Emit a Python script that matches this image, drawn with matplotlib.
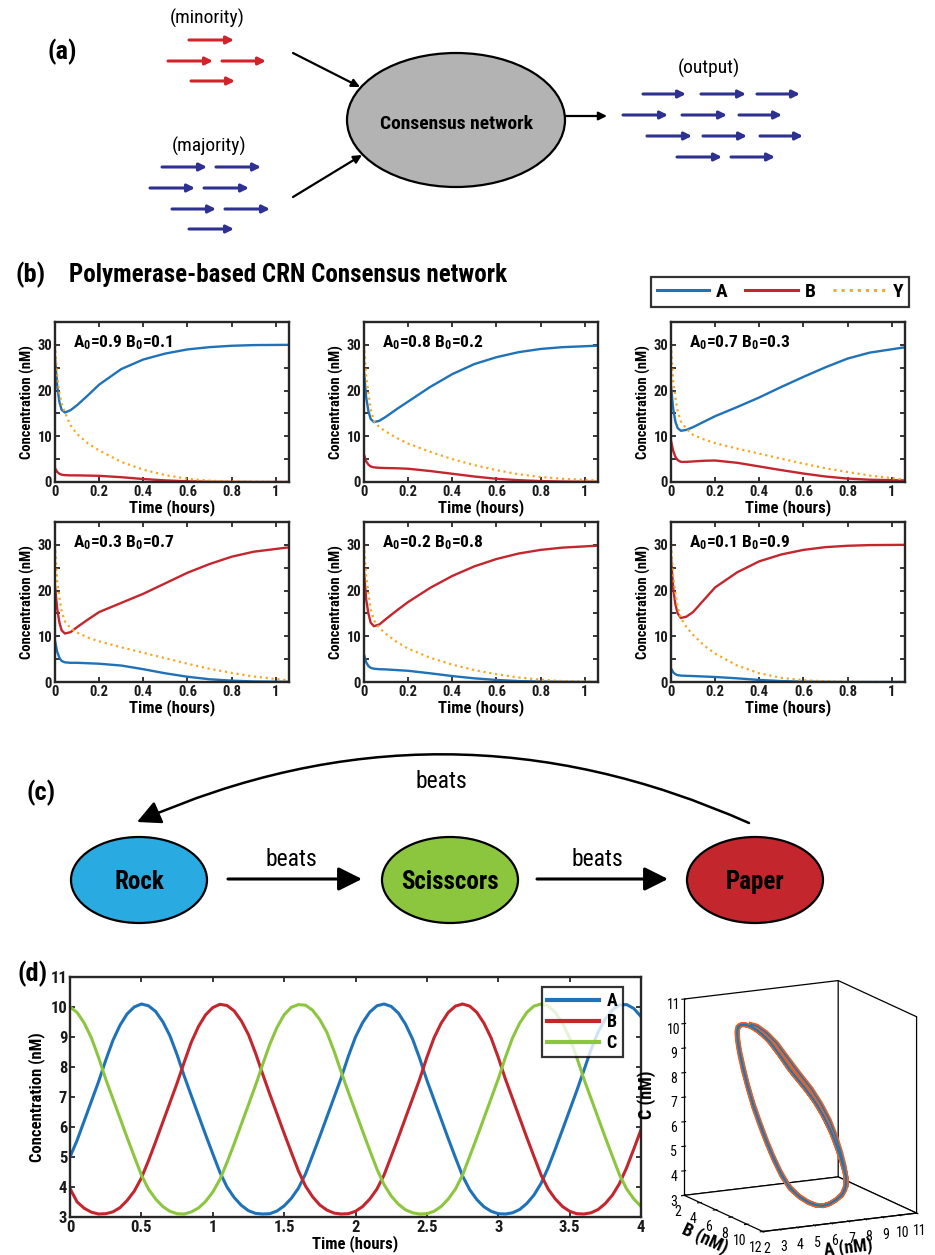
import matplotlib
matplotlib.use("Agg")
import matplotlib.pyplot as plt
from matplotlib import font_manager
from matplotlib.patches import Ellipse, FancyArrowPatch
from matplotlib.lines import Line2D
import numpy as np

# pick a narrow sans (the original uses a condensed face)
entries = font_manager.fontManager.ttflist
names = {f.name for f in entries}
family, stretch = 'DejaVu Sans', 'normal'
for cand in ['Liberation Sans Narrow', 'Roboto Condensed', 'Noto Sans Condensed',
             'Open Sans Condensed', 'DejaVu Sans Condensed']:
    if cand in names:
        family = cand
        break
else:
    for fam in ['Noto Sans', 'Roboto', 'Open Sans', 'DejaVu Sans']:
        if any(f.name == fam and f.stretch in ('condensed', 'semi-condensed', 'extra-condensed')
               for f in entries):
            family, stretch = fam, 'condensed'
            break
plt.rcParams['font.family'] = [family, 'DejaVu Sans']
plt.rcParams['font.stretch'] = stretch
plt.rcParams['mathtext.fontset'] = 'custom'
plt.rcParams['mathtext.rm'] = family + ':stretch=' + stretch
plt.rcParams['mathtext.bf'] = family + ':bold:stretch=' + stretch

# ---------------- data: panel (b) consensus runs ----------------
t_b = [0, 0.01, 0.02, 0.03, 0.045, 0.07, 0.1, 0.15, 0.2, 0.3, 0.4, 0.5, 0.6, 0.7, 0.8, 0.9, 1.05]
init_labels = [("0.9", "0.1"), ("0.8", "0.2"), ("0.7", "0.3"),
               ("0.3", "0.7"), ("0.2", "0.8"), ("0.1", "0.9")]
A_b = [
    [27, 21, 17.5, 15.8, 15.2, 15.7, 16.8, 19.0, 21.3, 24.7, 26.8, 28.1, 29.0, 29.5, 29.8, 29.95, 30.0],
    [24, 18.5, 15.5, 13.8, 13.1, 13.4, 14.3, 16.0, 17.6, 20.8, 23.6, 25.8, 27.3, 28.4, 29.1, 29.5, 29.8],
    [21, 16, 13.2, 11.8, 11.2, 11.4, 12.0, 13.2, 14.4, 16.4, 18.5, 20.8, 23.0, 25.1, 27.0, 28.3, 29.4],
    [9, 6.6, 5.3, 4.6, 4.3, 4.2, 4.2, 4.1, 4.0, 3.6, 2.8, 1.9, 1.15, 0.6, 0.3, 0.12, 0.05],
    [6, 4.3, 3.5, 3.1, 2.9, 2.8, 2.75, 2.6, 2.45, 1.9, 1.3, 0.8, 0.45, 0.2, 0.1, 0.05, 0.0],
    [3, 2.1, 1.7, 1.5, 1.4, 1.35, 1.3, 1.2, 1.1, 0.8, 0.45, 0.2, 0.08, 0.03, 0.0, 0.0, 0.0],
]
B_b = [
    [3, 2.2, 1.8, 1.6, 1.5, 1.45, 1.45, 1.4, 1.35, 1.05, 0.65, 0.35, 0.15, 0.05, 0.02, 0.0, 0.0],
    [6, 4.5, 3.8, 3.4, 3.2, 3.1, 3.05, 3.0, 2.9, 2.4, 1.8, 1.2, 0.7, 0.4, 0.2, 0.1, 0.05],
    [9, 6.8, 5.5, 4.8, 4.4, 4.4, 4.5, 4.65, 4.7, 4.2, 3.4, 2.6, 1.85, 1.2, 0.75, 0.5, 0.35],
    [21, 16, 13, 11.3, 10.6, 10.9, 12.0, 13.7, 15.3, 17.3, 19.3, 21.6, 23.9, 25.8, 27.4, 28.5, 29.4],
    [24, 18, 15, 13.0, 12.2, 12.6, 13.8, 15.7, 17.5, 20.6, 23.2, 25.3, 26.9, 28.1, 28.9, 29.4, 29.8],
    [27, 20.5, 17, 15, 14.0, 14.3, 15.3, 18.0, 20.7, 24.0, 26.4, 27.9, 28.9, 29.5, 29.8, 29.95, 30],
]
Y_b = [
    [30, 23, 19.5, 17.2, 15.2, 12.4, 10.5, 8.4, 6.9, 4.4, 2.7, 1.5, 0.7, 0.3, 0.12, 0.04, 0.0],
    [30, 23, 19.5, 16, 13.3, 12.0, 11.0, 9.6, 8.4, 6.6, 5.0, 3.7, 2.6, 1.7, 1.1, 0.7, 0.35],
    [30, 22, 18.5, 15.5, 13.2, 11.6, 10.3, 9.3, 8.5, 7.3, 6.2, 5.1, 4.0, 3.0, 2.2, 1.4, 0.6],
    [30, 22, 18.5, 15.5, 13.2, 11.8, 10.8, 9.7, 8.9, 7.6, 6.4, 5.2, 4.0, 2.9, 2.0, 1.2, 0.4],
    [30, 23, 19.5, 16, 13.5, 11.8, 10.5, 8.7, 7.3, 5.3, 3.8, 2.6, 1.7, 1.0, 0.5, 0.2, 0.05],
    [30, 23, 19.5, 16.5, 14.0, 12.0, 10.3, 8.0, 6.2, 3.6, 1.9, 0.9, 0.4, 0.15, 0.05, 0.0, 0.0],
]

# ---------------- data: panel (d) rock-paper-scissors oscillator ----------------
t_osc = np.linspace(0, 4, 81)
A_osc = [5.00, 5.56, 6.21, 6.86, 7.51, 8.22, 8.88, 9.39, 9.77, 10.00,
         10.10, 10.04, 9.85, 9.51, 9.04, 8.41, 7.70, 7.04, 6.39, 5.74,
         5.11, 4.49, 4.00, 3.65, 3.39, 3.21, 3.12, 3.10, 3.11, 3.20,
         3.37, 3.62, 3.96, 4.44, 5.06, 5.69, 6.34, 6.99, 7.64, 8.36,
         9.00, 9.48, 9.83, 10.04, 10.10, 10.02, 9.80, 9.43, 8.93, 8.28,
         7.56, 6.91, 6.26, 5.61, 4.98, 4.37, 3.91, 3.58, 3.34, 3.19,
         3.11, 3.10, 3.14, 3.25, 3.45, 3.73, 4.12, 4.65, 5.27, 5.91,
         6.56, 7.21, 7.89, 8.58, 9.17, 9.60, 9.90, 10.07, 10.08, 9.95,
         9.68]
B_osc = [3.95, 3.50, 3.29, 3.16, 3.10, 3.11, 3.17, 3.31, 3.55, 3.86,
         4.30, 4.88, 5.51, 6.16, 6.81, 7.46, 8.16, 8.83, 9.35, 9.74,
         9.98, 10.09, 10.05, 9.87, 9.54, 9.08, 8.46, 7.76, 7.09, 6.44,
         5.79, 5.16, 4.54, 4.03, 3.67, 3.40, 3.23, 3.13, 3.10, 3.11,
         3.19, 3.35, 3.60, 3.93, 4.40, 5.02, 5.65, 6.30, 6.95, 7.60,
         8.32, 8.97, 9.46, 9.82, 10.03, 10.10, 10.03, 9.82, 9.46, 8.97,
         8.32, 7.60, 6.95, 6.30, 5.65, 5.02, 4.40, 3.93, 3.60, 3.35,
         3.19, 3.11, 3.10, 3.14, 3.25, 3.45, 3.73, 4.12, 4.65, 5.27,
         5.91]
C_osc = [10.00, 9.82, 9.46, 8.97, 8.32, 7.60, 6.95, 6.30, 5.65, 5.02,
         4.40, 3.93, 3.60, 3.35, 3.19, 3.11, 3.10, 3.17, 3.30, 3.52,
         3.83, 4.25, 4.82, 5.44, 6.09, 6.74, 7.39, 8.09, 8.76, 9.32,
         9.74, 9.99, 10.08, 10.06, 9.89, 9.58, 9.15, 8.53, 7.83, 7.16,
         6.51, 5.86, 5.22, 4.60, 4.08, 3.70, 3.43, 3.24, 3.14, 3.10,
         3.11, 3.19, 3.35, 3.60, 3.93, 4.40, 5.02, 5.65, 6.30, 6.95,
         7.60, 8.32, 8.97, 9.46, 9.82, 10.03, 10.10, 10.03, 9.82, 9.46,
         8.97, 8.32, 7.60, 6.95, 6.30, 5.65, 5.02, 4.40, 3.93, 3.60,
         3.35]

# colours
BLUE = '#1f72b8'
RED = '#c4262e'
ORANGE = '#f7a823'
GREEN = '#8cc63f'

W, H = 935, 1255
fig = plt.figure(figsize=(W / 100, H / 100), dpi=100)


def rect(x0, y0, x1, y1):
    return [x0 / W, 1 - y1 / H, (x1 - x0) / W, (y1 - y0) / H]


def arrow(ax, p0, p1, color, lw, ms, style='-|>'):
    ax.annotate('', xy=p1, xytext=p0,
                arrowprops=dict(arrowstyle=style, color=color, lw=lw,
                                mutation_scale=ms, shrinkA=0, shrinkB=0))


# ---------------- schematic layer (panels a and c) ----------------
sk = fig.add_axes([0, 0, 1, 1])
sk.set_xlim(0, W)
sk.set_ylim(H, 0)
sk.axis('off')

PANEL_FS = 19
sk.text(62, 52, '(a)', fontsize=PANEL_FS, fontweight='bold', ha='center', va='center')
sk.text(207, 18, '(minority)', fontsize=14, ha='center', va='center')
sk.text(209, 146, '(majority)', fontsize=14, ha='center', va='center')
sk.text(709, 68, '(output)', fontsize=14, ha='center', va='center')

red_rows = [((189, 40), (234, 40)), ((168, 61), (213, 61)), ((222, 61), (266, 61)),
            ((191, 81), (235, 81))]
blue_in = [((162, 167), (207, 167)), ((216, 167), (261, 167)), ((150, 188), (195, 188)),
           ((204, 188), (249, 188)), ((172, 209), (216, 209)), ((225, 209), (270, 209)),
           ((189, 229), (234, 229))]
blue_out = [((643, 94), (686, 94)), ((701, 94), (746, 94)), ((757, 94), (800, 94)),
            ((623, 115), (668, 115)), ((682, 115), (727, 115)), ((739, 115), (782, 115)),
            ((647, 136), (692, 136)), ((703, 136), (747, 136)), ((760, 136), (803, 136)),
            ((677, 157), (722, 157)), ((731, 157), (775, 157))]
for p0, p1 in red_rows:
    arrow(sk, p0, p1, '#d2232a', 2.2, 11)
for p0, p1 in blue_in + blue_out:
    arrow(sk, p0, p1, '#2e3192', 2.2, 11)

sk.add_patch(Ellipse((456, 120), 218, 134, facecolor='#b3b3b3', edgecolor='k', lw=1.6))
sk.text(456, 124, 'Consensus network', fontsize=14, fontweight='bold', ha='center', va='center')
arrow(sk, (293, 53), (360, 87), 'k', 1.6, 12)
arrow(sk, (293, 197), (362, 155), 'k', 1.6, 12)
arrow(sk, (565, 116), (607, 116), 'k', 1.6, 12)

# panel (b) headings
sk.text(31, 275, '(b)', fontsize=PANEL_FS, fontweight='bold', ha='center', va='center')
sk.text(69, 275, 'Polymerase-based CRN Consensus network', fontsize=18,
        fontweight='bold', ha='left', va='center')

# panel (c)
sk.text(41, 793, '(c)', fontsize=PANEL_FS, fontweight='bold', ha='center', va='center')
nodes = [('Rock', 139, '#29abe2'), ('Scisscors', 450, GREEN), ('Paper', 755, RED)]
for name, cx, col in nodes:
    sk.add_patch(Ellipse((cx, 880), 136, 86, facecolor=col, edgecolor='k', lw=1.6))
    sk.text(cx, 882, name, fontsize=18, fontweight='bold', ha='center', va='center')
big = '-|>,head_length=0.9,head_width=0.45'
arrow(sk, (228, 879), (362, 879), 'k', 2.2, 16, big)
arrow(sk, (537, 879), (668, 879), 'k', 2.2, 16, big)
sk.text(291, 860, 'beats', fontsize=17, ha='center', va='center')
sk.text(597, 860, 'beats', fontsize=17, ha='center', va='center')
sk.add_patch(FancyArrowPatch((749, 823), (137, 822), connectionstyle='arc3,rad=0.222',
                             arrowstyle=big, mutation_scale=16, color='k', lw=1.8,
                             shrinkA=0, shrinkB=0))
sk.text(441, 781, 'beats', fontsize=17, ha='center', va='center')

# panel (d) label
sk.text(33, 974, '(d)', fontsize=PANEL_FS, fontweight='bold', ha='center', va='center')


def style(ax, fs):
    for s in ax.spines.values():
        s.set_linewidth(1.7)
        s.set_color('#262626')
    ax.tick_params(direction='in', top=True, right=True, length=3.5, width=1.3,
                   labelsize=fs, pad=2, colors='#262626', labelcolor='#1a1a1a')


# ---------------- panel (b) small multiples ----------------
cols = [(55, 289), (364, 598), (671, 905)]
rows = [(322, 482), (522, 682)]
for i in range(6):
    x0, x1 = cols[i % 3]
    y0, y1 = rows[i // 3]
    ax = fig.add_axes(rect(x0, y0, x1, y1))
    ax.plot(t_b, A_b[i], color=BLUE, lw=1.7)
    ax.plot(t_b, B_b[i], color=RED, lw=1.7)
    ax.plot(t_b, Y_b[i], color=ORANGE, lw=1.6, ls=':')
    ax.set_xlim(0, 1.06)
    ax.set_ylim(0, 35)
    style(ax, 10.5)
    ax.set_xticks([0, 0.2, 0.4, 0.6, 0.8, 1.0], labels=['0', '0.2', '0.4', '0.6', '0.8', '1'],
                  fontweight='bold')
    ax.set_yticks(range(0, 36, 5), labels=['0', '', '10', '', '20', '', '30', ''],
                  fontweight='bold')
    ax.set_xlabel('Time (hours)', fontsize=12, fontweight='bold', labelpad=0)
    ax.set_ylabel('Concentration (nM)', fontsize=10.5, fontweight='bold', labelpad=2)
    a0, b0 = init_labels[i]
    ax.text(0.075, 0.87, r'$\mathbf{A_0}$' + '=' + a0 + ' ' + r'$\mathbf{B_0}$' + '=' + b0,
            transform=ax.transAxes, fontsize=12.5, fontweight='bold', va='center')

handles = [Line2D([], [], color=BLUE, lw=2.2), Line2D([], [], color=RED, lw=2.2),
           Line2D([], [], color=ORANGE, lw=2.2, ls=':')]
leg = fig.legend(handles, ['A', 'B', 'Y'], loc='center', bbox_to_anchor=(780 / W, 1 - 292 / H),
                 ncol=3, frameon=True, fancybox=False, edgecolor='k', handlelength=2.7,
                 columnspacing=0.9, handletextpad=0.35, borderpad=0.3, borderaxespad=0,
                 prop={'weight': 'bold', 'size': 14})
leg.get_frame().set_linewidth(1.6)

# ---------------- panel (d) time series ----------------
axd = fig.add_axes(rect(70, 977, 641, 1217))
axd.plot(t_osc, A_osc, color=BLUE, lw=2.2, label='A')
axd.plot(t_osc, B_osc, color=RED, lw=2.2, label='B')
axd.plot(t_osc, C_osc, color=GREEN, lw=2.2, label='C')
axd.set_xlim(0, 4)
axd.set_ylim(3, 11)
style(axd, 12)
axd.set_xticks(np.arange(0, 4.01, 0.5), labels=['0', '0.5', '1', '1.5', '2', '2.5', '3', '3.5', '4'],
               fontweight='bold')
axd.set_yticks(range(3, 12), labels=[str(v) for v in range(3, 12)], fontweight='bold')
axd.set_xlabel('Time (hours)', fontsize=12, fontweight='bold', labelpad=0)
axd.set_ylabel('Concentration (nM)', fontsize=12, fontweight='bold', labelpad=4)
lg = axd.legend(loc='upper right', bbox_to_anchor=(0.968, 0.958), frameon=True, fancybox=False,
                edgecolor='k', handlelength=2.9, prop={'weight': 'bold', 'size': 13},
                borderpad=0.3, labelspacing=0.15, handletextpad=0.4, borderaxespad=0)
lg.get_frame().set_linewidth(1.6)
for ln in lg.get_lines():
    ln.set_linewidth(3)

# ---------------- panel (d) phase portrait ----------------
ax3 = fig.add_axes(rect(650, 955, 943, 1265), projection='3d')
ax3.set_proj_type('ortho')
ax3.plot(A_osc, B_osc, C_osc, color='#e3622c', lw=3.5)
ax3.plot(A_osc, B_osc, C_osc, color='#1f77b4', lw=1.1)
ax3.set_xlim(2, 11)
ax3.set_ylim(12, 2)
ax3.set_zlim(3, 11)
ax3.set_xticks(range(2, 12))
ax3.set_yticks(range(2, 13, 2))
ax3.set_zticks(range(3, 12))
ax3.set_box_aspect((1, 1, 1.17), zoom=1.05)
ax3.view_init(elev=13.6, azim=-117)
ax3.grid(False)
for axis in (ax3.xaxis, ax3.yaxis, ax3.zaxis):
    axis.set_pane_color((1, 1, 1, 1))
    axis.pane.set_edgecolor('k')
    axis.pane.set_linewidth(0.9)
    axis.line.set_color('k')
    axis.line.set_linewidth(0.9)
ax3.tick_params(labelsize=10, pad=-3)
ax3.zaxis.set_rotate_label(False)
ax3.set_xlabel('A (nM)', fontsize=13, fontweight='bold', labelpad=-9)
ax3.set_ylabel('B (nM)', fontsize=13, fontweight='bold', labelpad=-8)
ax3.set_zlabel('C (nM)', fontsize=13, fontweight='bold', labelpad=-3, rotation=90)

fig.savefig('out.png', dpi=100)
